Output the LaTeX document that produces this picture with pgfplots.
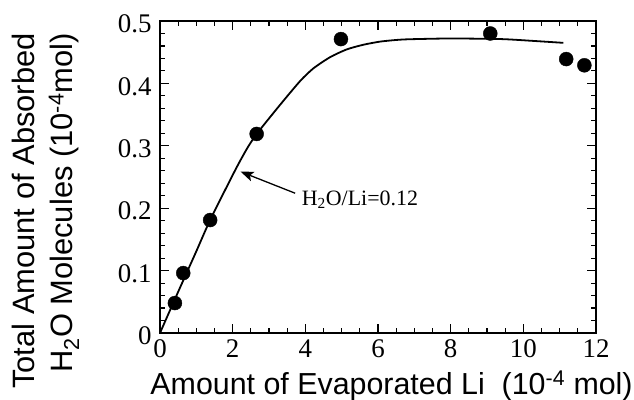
\documentclass[border=0pt]{standalone}
\usepackage{fontspec}
\setmainfont{Liberation Serif}
\setsansfont{Liberation Sans}
\usepackage{pgfplots}
\pgfplotsset{compat=1.18}
\usetikzlibrary{arrows.meta}

\begin{document}
\begin{tikzpicture}
\useasboundingbox (-160bp,-67bp) rectangle (474bp,333bp);
\begin{axis}[
  at={(0,0)}, anchor=south west,
  scale only axis, width=436bp, height=312bp,
  xmin=0, xmax=12, ymin=0, ymax=0.5,
  xtick={0,2,4,6,8,10,12}, minor x tick num=3,
  ytick={0,0.1,0.2,0.3,0.4,0.5}, yticklabels={0,0.1,0.2,0.3,0.4,0.5},
  minor y tick num=4,
  tick align=inside,
  major tick length=9bp, minor tick length=5bp,
  every tick/.style={black, line width=1.1bp},
  axis line style={line width=1.8bp},
  tick label style={font=\fontsize{27}{27}\selectfont},
  xticklabel style={yshift=-3bp},
  yticklabel style={xshift=-5bp, yshift=-3bp},
  /pgf/number format/assume math mode=true,
  xlabel={Amount of Evaporated Li\ \ (10\textsuperscript{-4} mol)},
  xlabel style={at={(axis description cs:0.531,-0.170)}, anchor=center,
    font=\sffamily\fontsize{30.5}{30.5}\selectfont},
  ylabel={Total Amount of Absorbed\\H\textsubscript{2}O Molecules (10\textsuperscript{-4}mol)},
  ylabel style={at={(axis description cs:-0.262,0.391)}, anchor=center, align=right,
    font=\sffamily\fontsize{31}{38}\selectfont},
]
\addplot[black, line width=1.8bp, smooth, tension=0.4] coordinates {
  (0,0) (0.5,0.066) (1.0,0.131) (1.38,0.181) (2.07,0.261) (2.39,0.295)
  (2.66,0.319) (3.31,0.366) (3.86,0.404) (4.22,0.424) (4.68,0.442)
  (5.14,0.4545) (5.6,0.462) (6.06,0.467) (6.52,0.4697) (6.89,0.4708)
  (8.0,0.472) (9.4,0.471) (10.3,0.468) (11.1,0.465)
};
\addplot[only marks, mark=*, mark size=7bp, black] coordinates {
  (0.41,0.048) (0.64,0.096) (1.38,0.181) (2.66,0.319)
  (4.98,0.471) (9.09,0.480) (11.18,0.439) (11.68,0.429)
};
\draw[line width=1.3bp, -{Stealth[length=13bp,width=10bp,inset=3bp]}]
  (axis cs:3.72,0.224) -- (axis cs:2.22,0.2585);
\node[anchor=west, font=\fontsize{22}{22}\selectfont, inner sep=0pt]
  at (axis cs:3.9,0.213) {H\textsubscript{2}O/Li=0.12};
\end{axis}
\end{tikzpicture}
\end{document}
